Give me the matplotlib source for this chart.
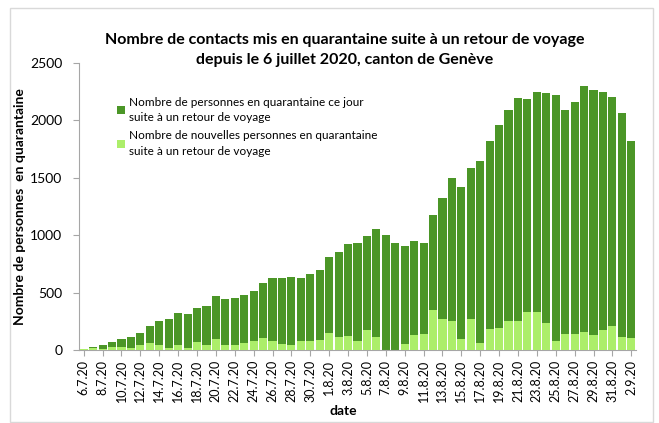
import matplotlib
matplotlib.use("Agg")
import matplotlib.pyplot as plt
from matplotlib.patches import Rectangle, Patch
import pandas as pd
import numpy as np

# daily categories 6.7.20 -> 2.9.20
dates = pd.date_range("2020-07-06", "2020-09-02", freq="D")
date_labels = [f"{d.day}.{d.month}.20" for d in dates]

# persons in quarantine that day (dark green)
total_quarantine = [8, 28, 46, 68, 96, 110, 150, 206, 253, 270,
                    322, 311, 368, 386, 468, 447, 456, 476, 511, 586,
                    624, 630, 638, 630, 662, 697, 807, 856, 920, 929,
                    993, 1051, 1004, 935, 906, 946, 935, 1179, 1327, 1495,
                    1422, 1588, 1646, 1823, 1960, 2087, 2197, 2189, 2250, 2236,
                    2224, 2087, 2163, 2302, 2267, 2250, 2203, 2067, 1823]

# new persons in quarantine (light green)
new_quarantine = [8, 15, 12, 22, 29, 14, 42, 60, 41, 18,
                  46, 16, 68, 41, 99, 41, 46, 61, 78, 107,
                  75, 52, 41, 75, 75, 87, 148, 110, 122, 81,
                  174, 110, 0, 0, 52, 128, 136, 348, 267, 250,
                  93, 267, 64, 180, 195, 253, 253, 334, 334, 232,
                  81, 139, 139, 160, 131, 174, 209, 113, 105]

label_total = "Nombre de personnes en quarantaine ce jour\nsuite à un retour de voyage"
label_new = "Nombre de nouvelles personnes en quarantaine\nsuite à un retour de voyage"

dark_green = "#4b9627"
light_green = "#acee6a"
axis_grey = "#a6a6a6"

plt.rcParams["font.family"] = ["Lato", "DejaVu Sans"]

fig = plt.figure(figsize=(6.59, 4.23), dpi=100)
ax = fig.add_axes([79 / 659, 1 - 350 / 423, (636 - 79) / 659, (350 - 63) / 423])

x = np.arange(len(dates))
ax.bar(x, total_quarantine, width=0.86, color=dark_green, zorder=2)
ax.bar(x, new_quarantine, width=0.86, color=light_green, zorder=3)

ax.set_xlim(-0.5, len(dates) - 0.5)
ax.set_ylim(0, 2500)
ax.set_yticks(range(0, 2501, 500))
ax.tick_params(axis="y", labelsize=10, length=4, color=axis_grey, pad=8)

ax.set_xticks(x[::2])
ax.set_xticklabels(date_labels[::2], rotation=90, fontsize=9)
ax.tick_params(axis="x", length=4, color=axis_grey, pad=3)

for s in ["top", "right"]:
    ax.spines[s].set_visible(False)
for s in ["left", "bottom"]:
    ax.spines[s].set_color(axis_grey)

ax.set_xlabel("date", fontsize=10, fontweight="bold")
ax.xaxis.set_label_coords(0.475, -0.19)
ax.set_ylabel("Nombre de personnes  en quarantaine", fontsize=10, fontweight="bold")
ax.yaxis.set_label_coords(-0.095, 0.5)

fig.text(0.523, 1 - 50 / 423,
         "Nombre de contacts mis en quarantaine suite à un retour de voyage\ndepuis le 6 juillet 2020, canton de Genève",
         ha="center", va="center", fontsize=11.5, fontweight="bold", linespacing=1.5)

handles = [Patch(facecolor=dark_green), Patch(facecolor=light_green)]
leg = ax.legend(handles, [label_total, label_new], loc="upper left",
                bbox_to_anchor=(112 / 659, 1 - 92 / 423), bbox_transform=fig.transFigure,
                frameon=False, fontsize=8.5, handlelength=0.7, handleheight=0.7,
                handletextpad=0.3, labelspacing=0.6, borderaxespad=0)
for t in leg.get_texts():
    t.set_linespacing(1.5)

# light frame around the whole chart
fig.add_artist(Rectangle((10 / 659, 1 / 423), 643 / 659, 414 / 423, transform=fig.transFigure,
                         fill=False, edgecolor="#d9d9d9", linewidth=1))

plt.savefig("out.png", dpi=100)
